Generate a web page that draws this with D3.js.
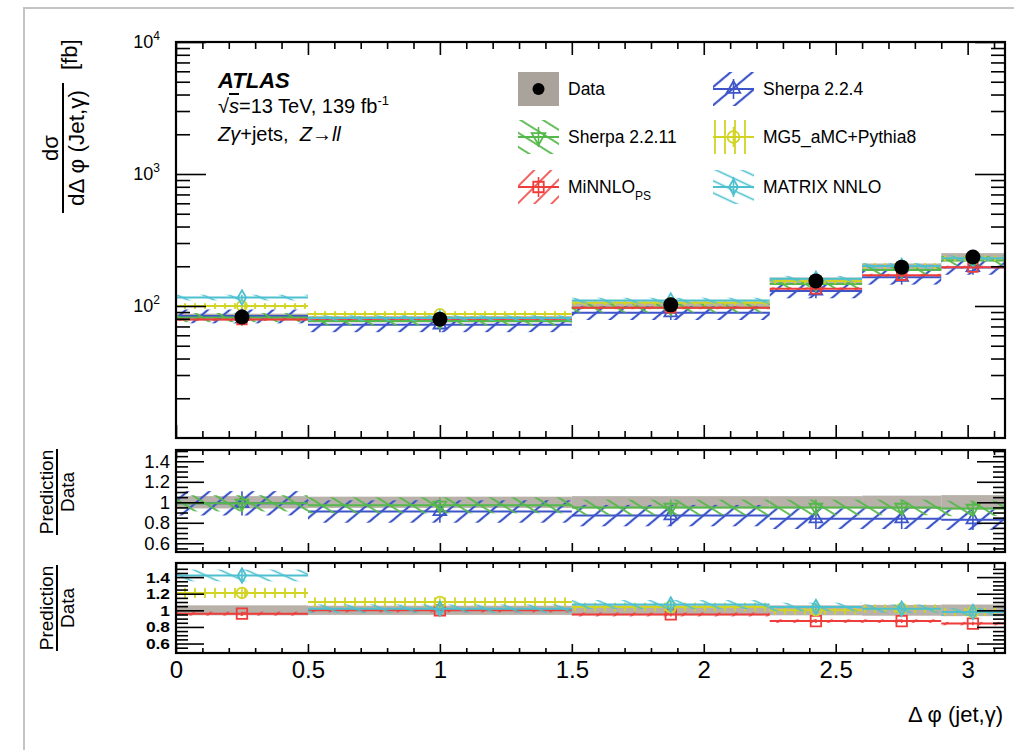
<!DOCTYPE html>
<html><head><meta charset="utf-8">
<script src="https://cdn.jsdelivr.net/npm/d3@7"></script>
<style>
body{margin:0;background:#fff;}
svg{font-family:"Liberation Sans",Arial,Helvetica,sans-serif;}
</style></head><body>
<svg id="c" width="1014" height="750"></svg>
<script>
// ---------------- data ----------------
const binEdges = [0, 0.5, 1.5, 2.25, 2.6, 2.9, Math.PI];
const binCenters = [0.25, 1.0, 1.875, 2.425, 2.75, 3.02];
const dataVals = [82.5, 79.5, 102, 155, 197, 235];
const dataRelUnc = [0.06, 0.055, 0.06, 0.06, 0.065, 0.07];
const sherpa224 = [84, 72, 89, 130, 165, 196];
const sherpa2211 = [82, 77, 97, 147, 187, 221];
const minnlo = [79, 80, 97, 135, 171, 197];
const mg5 = [100, 87, 106, 155, 201, 230];
const matrix = [116, 81, 110, 161, 201, 230];
const ratio224 = [0.99, 0.91, 0.87, 0.84, 0.84, 0.83];
const ratio2211 = [0.99, 0.97, 0.95, 0.95, 0.95, 0.94];
const ratioMinnlo = [0.96, 1.0, 0.95, 0.87, 0.87, 0.84];
const ratioMG5 = [1.21, 1.10, 1.04, 1.0, 1.02, 0.98];
const ratioMatrix = [1.42, 1.02, 1.07, 1.04, 1.02, 0.98];
const unc224 = 0.12, unc2211 = 0.08, uncMinnlo = 0.025, uncMG5 = 0.05, uncMatrix = 0.05;
const xMajorTicks = [0, 0.5, 1, 1.5, 2, 2.5, 3];
const xTickLabels = ["0", "0.5", "1", "1.5", "2", "2.5", "3"];
const ratioMajorTicks = [0.6, 0.8, 1, 1.2, 1.4];
const ratioTickLabels = ["0.6", "0.8", "1", "1.2", "1.4"];
const logMajorTicks = [100, 1000, 10000];
const logTickExps = ["2", "3", "4"];

// ---------------- setup ----------------
const svg = d3.select("#c");
const C = {blue:"#3d55c8", green:"#55b84a", red:"#ee3d3a", yellow:"#d2d424", cyan:"#4cc0cf", gray:"#aaa39b"};

const x = d3.scaleLinear().domain([0, Math.PI]).range([176, 1005]);
const yMain = d3.scaleLog().domain([10, 1e4]).range([438, 42]);
const yR1 = d3.scaleLinear().domain([0.515, 1.51]).range([552, 450]);
const yR2 = d3.scaleLinear().domain([0.486, 1.57]).range([653, 563]);

// frame of the photo
svg.append("path").attr("d","M24,750 L24,8 L1014,8").attr("fill","none").attr("stroke","#c4c4c4").attr("stroke-width",2);

const defs = svg.append("defs");
function hatch(id, color, spacing, angle, width){
  const p = defs.append("pattern").attr("id",id).attr("patternUnits","userSpaceOnUse")
    .attr("width",spacing).attr("height",spacing).attr("patternTransform",`rotate(${angle})`);
  p.append("line").attr("x1",spacing/2).attr("y1",0).attr("x2",spacing/2).attr("y2",spacing)
    .attr("stroke",color).attr("stroke-width",width);
}
hatch("hBlue", C.blue, 14, 50, 2.2);
hatch("hGreen", C.green, 12, -58, 1.8);
hatch("hRed", C.red, 12, 45, 1.6);
hatch("hYellow", C.yellow, 10, 0, 1.8);
hatch("hCyan", C.cyan, 11, -65, 1.6);

const panels = [
  {y: yMain, top: 42, bottom: 438, id:"pm"},
  {y: yR1, top: 450, bottom: 552, id:"p1"},
  {y: yR2, top: 563, bottom: 653, id:"p2"}
];
panels.forEach(p=>{
  defs.append("clipPath").attr("id","clip"+p.id).append("rect")
    .attr("x",x.range()[0]).attr("y",p.top).attr("width",x.range()[1]-x.range()[0]).attr("height",p.bottom-p.top);
});

const bins = binCenters.map((c,i)=>({i, c, lo: binEdges[i], hi: binEdges[i+1]}));

function symbolPath(type, size){ return d3.symbol().type(type).size(size)(); }

function drawModel(g, yS, vals, unc, color, pat, symType, rot, symSize){
  const gg = g.append("g");
  gg.selectAll("rect.band").data(bins).join("rect").attr("class","band")
    .attr("x",d=>x(d.lo)).attr("width",d=>x(d.hi)-x(d.lo))
    .attr("y",d=>yS(vals[d.i]*(1+unc))).attr("height",d=>yS(vals[d.i]*(1-unc))-yS(vals[d.i]*(1+unc)))
    .attr("fill",`url(#${pat})`);
  gg.selectAll("line.lvl").data(bins).join("line").attr("class","lvl")
    .attr("x1",d=>x(d.lo)).attr("x2",d=>x(d.hi)).attr("y1",d=>yS(vals[d.i])).attr("y2",d=>yS(vals[d.i]))
    .attr("stroke",color).attr("stroke-width",2);
  gg.selectAll("line.err").data(bins).join("line").attr("class","err")
    .attr("x1",d=>x(d.c)).attr("x2",d=>x(d.c)).attr("y1",d=>yS(vals[d.i]*(1+unc))).attr("y2",d=>yS(vals[d.i]*(1-unc)))
    .attr("stroke",color).attr("stroke-width",1.6);
  gg.selectAll("path.mk").data(bins).join("path").attr("class","mk")
    .attr("d",symbolPath(symType,symSize))
    .attr("transform",d=>`translate(${x(d.c)},${yS(vals[d.i])}) rotate(${rot})`)
    .attr("fill","none").attr("stroke",color).attr("stroke-width",1.8);
}

function dataBand(g, yS, centerVals){
  g.append("g").selectAll("rect").data(bins).join("rect")
    .attr("x",d=>x(d.lo)).attr("width",d=>x(d.hi)-x(d.lo))
    .attr("y",d=>yS(centerVals[d.i]*(1+dataRelUnc[d.i]))).attr("height",d=>yS(centerVals[d.i]*(1-dataRelUnc[d.i]))-yS(centerVals[d.i]*(1+dataRelUnc[d.i])))
    .attr("fill",C.gray).attr("opacity",0.85);
}

// ---------- main panel ----------
const gMain = svg.append("g").attr("clip-path","url(#clippm)");
dataBand(gMain, yMain, dataVals);
drawModel(gMain, yMain, sherpa224, unc224, C.blue, "hBlue", d3.symbolTriangle, 0, 70);
drawModel(gMain, yMain, sherpa2211, unc2211, C.green, "hGreen", d3.symbolTriangle, 180, 70);
drawModel(gMain, yMain, minnlo, uncMinnlo, C.red, "hRed", d3.symbolSquare, 0, 90);
drawModel(gMain, yMain, mg5, uncMG5, C.yellow, "hYellow", d3.symbolCircle, 0, 80);
drawModel(gMain, yMain, matrix, uncMatrix, C.cyan, "hCyan", d3.symbolDiamond, 0, 60);
gMain.append("g").selectAll("circle").data(bins).join("circle")
  .attr("cx",d=>x(d.c)).attr("cy",d=>yMain(dataVals[d.i])).attr("r",7.5).attr("fill","#000");

// ---------- ratio panel 1 ----------
const ones = binCenters.map(()=>1);
const g1 = svg.append("g").attr("clip-path","url(#clipp1)");
dataBand(g1, yR1, ones);
drawModel(g1, yR1, ratio224, unc224, C.blue, "hBlue", d3.symbolTriangle, 0, 70);
drawModel(g1, yR1, ratio2211, unc2211, C.green, "hGreen", d3.symbolTriangle, 180, 70);

// ---------- ratio panel 2 ----------
const g2 = svg.append("g").attr("clip-path","url(#clipp2)");
dataBand(g2, yR2, ones);
drawModel(g2, yR2, ratioMinnlo, uncMinnlo, C.red, "hRed", d3.symbolSquare, 0, 110);
drawModel(g2, yR2, ratioMG5, uncMG5, C.yellow, "hYellow", d3.symbolCircle, 0, 90);
drawModel(g2, yR2, ratioMatrix, uncMatrix, C.cyan, "hCyan", d3.symbolDiamond, 0, 60);

// ---------- axes ----------
const xMinor = d3.range(0, 3.15, 0.1).filter(v=>Math.abs(v*2-Math.round(v*2))>1e-6);
function frame(p, majTicksY, minTicksY, majLenY, minLenY, majLenX, minLenX, xLabels){
  const H = svg.append("g");
  const L = x.range()[0], R = x.range()[1];
  const bx = H.append("g").attr("transform",`translate(0,${p.bottom})`)
    .call(d3.axisBottom(x).tickValues(xMajorTicks).tickSize(-majLenX).tickPadding(8)
      .tickFormat((d,i)=> xLabels ? xTickLabels[i] : ""));
  H.append("g").attr("transform",`translate(0,${p.bottom})`).call(d3.axisBottom(x).tickValues(xMinor).tickSize(-minLenX).tickFormat(""));
  H.append("g").attr("transform",`translate(0,${p.top})`).call(d3.axisTop(x).tickValues(xMajorTicks).tickSize(-majLenX).tickFormat(""));
  H.append("g").attr("transform",`translate(0,${p.top})`).call(d3.axisTop(x).tickValues(xMinor).tickSize(-minLenX).tickFormat(""));
  H.append("g").attr("transform",`translate(${L},0)`).call(d3.axisLeft(p.y).tickValues(majTicksY).tickSize(-majLenY).tickFormat(""));
  H.append("g").attr("transform",`translate(${L},0)`).call(d3.axisLeft(p.y).tickValues(minTicksY).tickSize(-minLenY).tickFormat(""));
  H.append("g").attr("transform",`translate(${R},0)`).call(d3.axisRight(p.y).tickValues(majTicksY).tickSize(-majLenY).tickFormat(""));
  H.append("g").attr("transform",`translate(${R},0)`).call(d3.axisRight(p.y).tickValues(minTicksY).tickSize(-minLenY).tickFormat(""));
  H.selectAll(".domain").remove();
  H.selectAll(".tick line").attr("stroke","#000").attr("stroke-width",1.6);
  H.selectAll(".tick text").attr("fill","#000");
  bx.selectAll(".tick text").attr("font-size",24).attr("font-family","Liberation Sans, Arial, sans-serif");
  H.append("rect").attr("x",L).attr("y",p.top).attr("width",R-L).attr("height",p.bottom-p.top)
    .attr("fill","none").attr("stroke","#000").attr("stroke-width",2.2);
  return H;
}
const logMinor = [];
[10,100,1000].forEach(b=>{ for(let k=2;k<=9;k++) logMinor.push(b*k); });
frame(panels[0], logMajorTicks, logMinor, 30, 14, 13, 7, false);
const ratioMinor = d3.range(0.55, 1.51, 0.05).filter(v=>Math.abs(v*5-Math.round(v*5))>1e-6);
frame(panels[1], ratioMajorTicks, ratioMinor, 28, 12, 9, 5, false);
frame(panels[2], ratioMajorTicks, ratioMinor, 28, 12, 9, 5, true);

// y tick labels
const T = svg.append("g").attr("fill","#000");
logMajorTicks.forEach((v,i)=>{
  const t = T.append("text").attr("x",160).attr("y",yMain(v)+6).attr("text-anchor","end").attr("font-size",18);
  t.append("tspan").text("10");
  t.append("tspan").attr("font-size",12).attr("dy",-8).text(logTickExps[i]);
});
ratioMajorTicks.forEach((v,i)=>{
  T.append("text").attr("x",170).attr("y",yR1(v)+6.5).attr("text-anchor","end").attr("font-size",18.5).text(ratioTickLabels[i]);
});
ratioMajorTicks.forEach((v,i)=>{
  T.append("text").attr("x",170).attr("y",yR2(v)+5.5).attr("text-anchor","end").attr("font-size",15.5).attr("font-weight","bold")
    .attr("transform",`translate(170,${yR2(v)}) scale(1.12,1) translate(-170,${-yR2(v)})`).text(ratioTickLabels[i]);
});

// axis titles
const yt = svg.append("g").attr("transform","translate(63,148) rotate(-90)");
yt.append("text").attr("x",0).attr("y",-5).attr("text-anchor","middle").attr("font-size",22).text("dσ");
yt.append("line").attr("x1",-65).attr("x2",65).attr("y1",0).attr("y2",0).attr("stroke","#000").attr("stroke-width",2);
yt.append("text").attr("x",0).attr("y",21).attr("text-anchor","middle").attr("font-size",22.5).text("dΔ φ (Jet,γ)");
yt.append("text").attr("x",78).attr("y",14).attr("text-anchor","start").attr("font-size",22).text("[fb]");

[492, 608].forEach(cy=>{
  const g = svg.append("g").attr("transform",`translate(57,${cy}) rotate(-90)`);
  g.append("text").attr("x",0).attr("y",-4).attr("text-anchor","middle").attr("font-size",19).text("Prediction");
  g.append("line").attr("x1",-43).attr("x2",43).attr("y1",0).attr("y2",0).attr("stroke","#000").attr("stroke-width",2);
  g.append("text").attr("x",0).attr("y",17).attr("text-anchor","middle").attr("font-size",19).text("Data");
});

svg.append("text").attr("x",1003).attr("y",722).attr("text-anchor","end").attr("font-size",22).text("Δ φ (jet,γ)");

// ATLAS label
svg.append("text").attr("x",218).attr("y",88).attr("font-size",22).attr("font-weight","bold").attr("font-style","italic").text("ATLAS");
const l2 = svg.append("text").attr("x",218).attr("y",113).attr("font-size",20);
l2.append("tspan").text("√");
l2.append("tspan").attr("font-style","italic").attr("text-decoration","overline").text("s");
l2.append("tspan").text("=13 TeV, 139 fb");
l2.append("tspan").attr("font-size",13).attr("dy",-8).text("-1");
const l3 = svg.append("text").attr("x",218).attr("y",141).attr("font-size",20);
l3.append("tspan").attr("font-style","italic").text("Zγ");
l3.append("tspan").text("+jets,\u00a0\u00a0");
l3.append("tspan").attr("font-style","italic").text("Z");
l3.append("tspan").text("→");
l3.append("tspan").attr("font-style","italic").text("ll");

// ---------- legend ----------
const legendNames = ["Data","Sherpa 2.2.4","Sherpa 2.2.11","MG5_aMC+Pythia8","MiNNLO","MATRIX NNLO"];
const legendCols = [518, 713, 518, 713, 518, 713];
const legendRows = [89, 89, 137, 137, 187, 187];
const legendStyle = [
  null,
  {c:C.blue, p:"hBlue", s:d3.symbolTriangle, r:0, z:80},
  {c:C.green, p:"hGreen", s:d3.symbolTriangle, r:180, z:80},
  {c:C.yellow, p:"hYellow", s:d3.symbolCircle, r:0, z:110},
  {c:C.red, p:"hRed", s:d3.symbolSquare, r:0, z:110},
  {c:C.cyan, p:"hCyan", s:d3.symbolDiamond, r:0, z:70}
];
const LG = svg.append("g");
legendNames.forEach((n,i)=>{
  const lx = legendCols[i], ly = legendRows[i];
  const st = legendStyle[i];
  if(!st){
    LG.append("rect").attr("x",lx).attr("y",ly-17).attr("width",41).attr("height",34).attr("fill",C.gray);
    LG.append("circle").attr("cx",lx+20.5).attr("cy",ly).attr("r",6).attr("fill","#000");
  } else {
    LG.append("rect").attr("x",lx).attr("y",ly-17).attr("width",41).attr("height",34).attr("fill",`url(#${st.p})`);
    LG.append("line").attr("x1",lx).attr("x2",lx+41).attr("y1",ly).attr("y2",ly).attr("stroke",st.c).attr("stroke-width",2);
    LG.append("line").attr("x1",lx+20.5).attr("x2",lx+20.5).attr("y1",ly-10).attr("y2",ly+10).attr("stroke",st.c).attr("stroke-width",1.6);
    LG.append("path").attr("d",symbolPath(st.s,st.z)).attr("transform",`translate(${lx+20.5},${ly}) rotate(${st.r})`)
      .attr("fill","none").attr("stroke",st.c).attr("stroke-width",1.8);
  }
  const t = LG.append("text").attr("x",lx+50).attr("y",ly+6).attr("font-size",17.5).text(n);
  if(n==="MiNNLO") t.append("tspan").attr("font-size",12).attr("dy",7).text("PS");
});
</script>
</body></html>
